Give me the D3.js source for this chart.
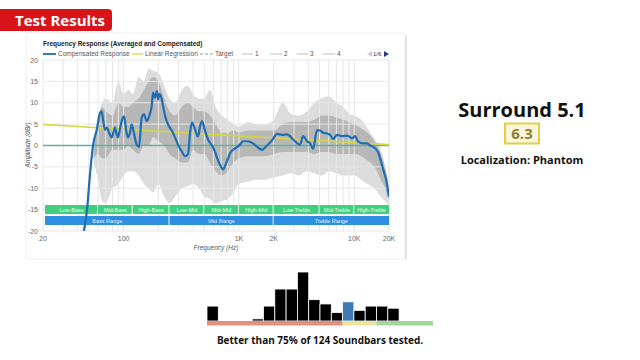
<!DOCTYPE html>
<html>
<head>
<meta charset="utf-8">
<script src="https://cdn.jsdelivr.net/npm/d3@7/dist/d3.min.js"></script>
<style>
  body { margin: 0; background: #fff; }
  svg { display: block; font-family: "Open Sans", sans-serif; }
  .chart text { font-family: "Liberation Sans", Arial, sans-serif; }
</style>
</head>
<body>
<svg id="viz" width="640" height="360"></svg>
<script>
// compensated response (Hz / dB)
var respFreq = [45.3, 48.2, 51, 54.3, 58.5, 62.4, 64.6, 66.3, 69, 71.8, 74.7, 78.8, 84.2, 87.1, 89.4, 93, 96.3, 98.8, 101,
  105, 109, 113.6, 117.6, 120.6, 126, 130, 136, 143.6, 150.3, 158.7, 165, 169.5, 175.3, 180, 187, 195, 199, 205, 211,
  220, 229, 243, 263, 279, 296, 321, 341, 362, 377, 392, 416, 442, 460, 479, 508, 540, 585, 621, 659, 700, 728, 765,
  805, 850, 889, 950, 1022, 1085, 1176, 1326, 1465, 1587, 1753, 1937, 2140, 2366, 2614, 2946, 3389, 3598, 3898, 4138,
  4393, 4758, 5050, 5363, 5808, 6168, 6550, 7095, 7840, 8662, 9572, 10163, 10792, 11924, 12918, 13717, 14564, 16092,
  16747, 17780, 18883, 20000];
var respDb = [-20, -15, -7, 0, 3.7, 7.6, 8, 6.1, 3.7, 4.2, 3, 1.9, 4.2, 2.6, 1.9, 4, 5.7, 6.5, 6.8,
  3.7, 1.9, 3, 4.9, 4, 1.5, 0.2, -0.3, 6.5, 7.3, 5.7, 6.5, 7.5, 9.2, 12.4, 11.2, 12.7, 10.8, 12, 11.5,
  9.2, 6.9, 4.9, 3.4, 1.9, 0.2, -1.5, -2.5, -2, 3, 5.4, 3.7, 2.1, 4.5, 5.7, 3.4, 1.4, -0.1, -1.5, -3.5, -5, -5.6, -4.5,
  -3, -1.5, -1, -0.5, 0.2, 1, 1, 0.5, -0.5, -1, 0, 1.2, 2.7, 2.5, 2.6, 1.4, 0.2, 2.2, 1, 0.5,
  -0.8, 3.6, 3.5, 3, 2.8, 2.5, 1.5, 2.5, 2.2, 2.3, 1.7, 2.2, 0.9, 0.5, 0.5, 0, -0.3, -1.5,
  -3, -5.5, -8, -12];

// spread of the individual measurements (gray cloud)
var cloudFreq = [55, 60, 65, 70, 80, 90, 100, 110, 120, 135, 150, 165, 180, 200, 225, 250, 280, 320, 360, 400, 450, 500,
  560, 630, 710, 800, 900, 1000, 1200, 1400, 1700, 2000, 2400, 2800, 3300, 3900, 4500, 5200, 6000, 7000, 8000, 9000,
  10000, 11500, 13000, 15000, 17000, 18500, 20000];
var cloudHi = [-2, 6, 10, 11, 10, 15, 12, 13, 12, 16, 15, 18, 17.5, 17, 14, 11, 10, 13, 14, 12, 11, 11,
  13, 9, 7, 6, 5, 4.5, 5.5, 5, 5, 6, 10, 7.5, 7, 8, 10, 11, 11.5, 10, 9, 7.5,
  7, 6, 4, 1.5, -1, -5, -10];
var cloudLo = [-4, -8, -13, -13.5, -10, -9, -7, -6, -6, -7, -9, -10, -11, -9, -12, -13.5, -12, -10, -9.5, -9, -10, -12,
  -12.5, -13.5, -13, -12.5, -11, -9, -8.5, -8, -8, -7.5, -7, -6.5, -7, -6, -6.5, -7, -6, -6.5, -7, -7,
  -7, -8, -9, -10, -12, -13, -14];
var coreHi = [-1, 6, 9, 8, 7, 10, 9, 9, 10, 11, 13, 15, 16, 15, 11, 8, 7, 9, 10, 9, 8, 8,
  7, 5, 3, 3, 3.5, 3, 3.5, 3.5, 3.5, 3.5, 5, 5.5, 5.5, 5.5, 6, 7, 7, 6.5, 6, 5.5,
  5, 4, 3, 1, -2, -5, -10];
var coreLo = [-3, -2, -3, -3, -1, -1, -1, 0, -1, -2, 0, 0, 2, 1, 0, -2, -3, -4, -4, -1, -2, -2,
  -4, -6, -7, -6, -4, -3, -2.5, -2.5, -2.5, -2, -1.5, -1.5, -1.5, -1.5, -2, -1.5, -1.5, -2, -2, -2,
  -2, -2.5, -3.5, -5, -8, -10, -13];

var regFreq = [20, 20000];
var regDb = [4.9, 0.2];
var targetDb = 0;

var yTicks = [20, 15, 10, 5, 0, -5, -10, -15, -20];
var xTickVals = [20, 100, 1000, 2000, 10000, 20000];
var xTickLabels = ["20", "100", "1K", "2K", "10K", "20K"];

var bandNames = ["Low-Bass", "Mid-Bass", "High-Bass", "Low-Mid", "Mid-Mid", "High-Mid", "Low-Treble", "Mid-Treble", "High-Treble"];
var bandEdges = [20, 60, 120, 250, 500, 1000, 2000, 5000, 10000, 20000];
var rangeNames = ["Bass Range", "Mid Range", "Treble Range"];
var rangeEdges = [20, 250, 2000, 20000];

var legendNames = ["Compensated Response", "Linear Regression", "Target", "1", "2", "3", "4"];

// score distribution
var histStart = [0, 0.5, 1, 1.5, 2, 2.5, 3, 3.5, 4, 4.5, 5, 5.5, 6, 6.5, 7, 7.5, 8, 8.5, 9, 9.5];
var histCounts = [7, 0, 0, 0, 1, 7, 15, 15, 23, 10, 8, 4, 9, 5, 7, 7, 6, 0, 0, 0];
var zoneEdges = [0, 6, 7.5, 10];
var score = 6.3;

var svg = d3.select("#viz");

// red header tag
svg.append("path")
  .attr("d", "M0,9 H108 a4,4 0 0 1 4,4 V27 a4,4 0 0 1 -4,4 H0 Z")
  .attr("fill", "#d8141b");
svg.append("text")
  .attr("x", 15).attr("y", 26)
  .attr("font-size", 15).attr("font-weight", 700)
  .attr("fill", "#fff")
  .text("Test Results");

// card behind the chart
svg.append("rect")
  .attr("x", 26).attr("y", 33).attr("width", 379).attr("height", 226)
  .attr("fill", "#fff").attr("stroke", "#efefef");
svg.append("line")
  .attr("x1", 406).attr("x2", 406).attr("y1", 35).attr("y2", 259)
  .attr("stroke", "#e4e4e4").attr("stroke-width", 2);

var chart = svg.append("g").attr("class", "chart");

var x = d3.scaleLog().domain([20, 20000]).range([43, 389]);
var y = d3.scaleLinear().domain([-20, 20]).range([231, 60]);

chart.append("clipPath").attr("id", "plotclip")
  .append("rect").attr("x", 43).attr("y", 60).attr("width", 346).attr("height", 171);

var under = chart.append("g").attr("clip-path", "url(#plotclip)");

// gray cloud
var cloud = cloudFreq.map(function(f, i) { return { f: f, hi: cloudHi[i], lo: cloudLo[i], chi: coreHi[i], clo: coreLo[i] }; });
under.append("path").datum(cloud)
  .attr("d", d3.area().x(d => x(d.f)).y0(d => y(d.lo)).y1(d => y(d.hi)).curve(d3.curveMonotoneX))
  .attr("fill", "#dcdcdc");
under.append("path").datum(cloud)
  .attr("d", d3.area().x(d => x(d.f)).y0(d => y(d.clo)).y1(d => y(d.chi)).curve(d3.curveMonotoneX))
  .attr("fill", "#b7b7b7");

// grid
var gridX = [];
[10, 100, 1000, 10000].forEach(function(dec) {
  for (var k = 1; k < 10; k++) { var v = dec * k; if (v >= 20 && v <= 20000) gridX.push(v); }
});
gridX.push(20000);
chart.append("g").selectAll("line").data(gridX).enter().append("line")
  .attr("x1", d => x(d)).attr("x2", d => x(d)).attr("y1", 60).attr("y2", 231)
  .attr("stroke", "#e6e6e6").attr("stroke-width", 1);
chart.append("g").selectAll("line").data(yTicks).enter().append("line")
  .attr("x1", 43).attr("x2", 389).attr("y1", d => y(d)).attr("y2", d => y(d))
  .attr("stroke", "#e6e6e6").attr("stroke-width", 1);

var plot = chart.append("g").attr("clip-path", "url(#plotclip)");

// target and regression
plot.append("line")
  .attr("x1", x(20)).attr("x2", x(20000)).attr("y1", y(targetDb)).attr("y2", y(targetDb))
  .attr("stroke", "#5fb39a").attr("stroke-width", 1.5);
plot.append("path").datum(regFreq.map((f, i) => [f, regDb[i]]))
  .attr("d", d3.line().x(d => x(d[0])).y(d => y(d[1])))
  .attr("fill", "none").attr("stroke", "#d2d642").attr("stroke-width", 1.6);

// frequency bands
var bands = chart.append("g");
bandNames.forEach(function(n, i) {
  var x0 = Math.max(x(bandEdges[i]), 45), x1 = x(bandEdges[i + 1]);
  bands.append("rect").attr("x", x0).attr("y", 205).attr("width", x1 - x0 - (i < bandNames.length - 1 ? 1 : 0)).attr("height", 9)
    .attr("fill", "#3fd07f");
  bands.append("text").attr("x", (x0 + x1) / 2).attr("y", 211.5).attr("text-anchor", "middle")
    .attr("font-size", 5.5).attr("fill", "#e9fff1").text(n);
});
rangeNames.forEach(function(n, i) {
  var x0 = Math.max(x(rangeEdges[i]), 45), x1 = x(rangeEdges[i + 1]);
  bands.append("rect").attr("x", x0).attr("y", 216).attr("width", x1 - x0 - (i < rangeNames.length - 1 ? 1 : 0)).attr("height", 9)
    .attr("fill", "#2e8fe0");
  bands.append("text").attr("x", (x0 + x1) / 2).attr("y", 222.5).attr("text-anchor", "middle")
    .attr("font-size", 5.5).attr("fill", "#e6f2ff").text(n);
});

// compensated response
var front = chart.append("g").attr("clip-path", "url(#plotclip)");
front.append("path").datum(respFreq.map((f, i) => [f, respDb[i]]))
  .attr("d", d3.line().x(d => x(d[0])).y(d => y(d[1])).curve(d3.curveMonotoneX))
  .attr("fill", "none").attr("stroke", "#1f6db3").attr("stroke-width", 2.2).attr("stroke-linejoin", "round");

// axes labels
chart.append("g").selectAll("text").data(yTicks).enter().append("text")
  .attr("x", 38).attr("y", d => y(d) + 2.5).attr("text-anchor", "end")
  .attr("font-size", 7).attr("fill", "#666").text(d => d);
chart.append("g").selectAll("text").data(xTickVals).enter().append("text")
  .attr("x", d => x(d)).attr("y", 240.5).attr("text-anchor", "middle")
  .attr("font-size", 7).attr("fill", "#666").text((d, i) => xTickLabels[i]);
chart.append("text").attr("transform", "translate(30,145) rotate(-90)")
  .attr("text-anchor", "middle").attr("font-size", 6.5).attr("font-style", "italic").attr("fill", "#555")
  .text("Amplitude (dBr)");
chart.append("text").attr("x", 216).attr("y", 250)
  .attr("text-anchor", "middle").attr("font-size", 6.5).attr("font-style", "italic").attr("fill", "#555")
  .text("Frequency (Hz)");

// title + legend
chart.append("text").attr("x", 43).attr("y", 46)
  .attr("font-size", 6.5).attr("font-weight", 700).attr("fill", "#222")
  .text("Frequency Response (Averaged and Compensated)");
var legX = [43, 132, 200, 242, 270, 297, 323];
var legW = [13, 11, 13, 11, 12, 11, 12];
var legColor = ["#1f6db3", "#d2d642", "#5fb39a", "#c8c8c8", "#c8c8c8", "#c8c8c8", "#c8c8c8"];
var leg = chart.append("g");
legendNames.forEach(function(n, i) {
  leg.append("line").attr("x1", legX[i]).attr("x2", legX[i] + legW[i]).attr("y1", 54).attr("y2", 54)
    .attr("stroke", legColor[i]).attr("stroke-width", i === 0 ? 1.8 : 1.2)
    .attr("stroke-dasharray", i === 2 ? "3,2" : null);
  leg.append("text").attr("x", legX[i] + legW[i] + 2).attr("y", 56.3)
    .attr("font-size", 6.5).attr("fill", "#555").text(n);
});
leg.append("path").attr("d", "M372,51 L367,54 L372,57 Z").attr("fill", "#ccc");
leg.append("text").attr("x", 373).attr("y", 56.3).attr("font-size", 6).attr("fill", "#223b8f").text("1/6");
leg.append("path").attr("d", "M384,51 L389,54 L384,57 Z").attr("fill", "#223b8f");

// right panel: score
svg.append("text").attr("x", 522).attr("y", 117).attr("text-anchor", "middle")
  .attr("font-size", 20).attr("font-weight", 700).attr("fill", "#111").text("Surround 5.1");
svg.append("rect").attr("x", 505).attr("y", 123.5).attr("width", 34).attr("height", 20)
  .attr("fill", "#fbf6dc").attr("stroke", "#e3cd49").attr("stroke-width", 2);
svg.append("text").attr("x", 522).attr("y", 139).attr("text-anchor", "middle")
  .attr("font-size", 15).attr("font-weight", 700).attr("fill", "#8d8233").text(score);
svg.append("text").attr("x", 522).attr("y", 164).attr("text-anchor", "middle")
  .attr("font-size", 11).attr("font-weight", 700).attr("fill", "#111").text("Localization: Phantom");

// score distribution
var hx = d3.scaleLinear().domain([0, 10]).range([207, 433]);
var hy = d3.scaleLinear().domain([0, 23]).range([321, 272]);
svg.append("g").selectAll("rect").data(histStart).enter().append("rect")
  .attr("x", d => hx(d)).attr("width", hx(0.5) - hx(0))
  .attr("y", (d, i) => hy(histCounts[i])).attr("height", (d, i) => hy(0) - hy(histCounts[i]))
  .attr("fill", d => (score >= d && score < d + 0.5) ? "#3d79b5" : "#000")
  .attr("stroke", "#fff").attr("stroke-width", 0.8);
var zoneColor = ["#e58f7f", "#ede59b", "#a4d79b"];
svg.append("g").selectAll("rect").data(zoneColor).enter().append("rect")
  .attr("x", (d, i) => hx(zoneEdges[i])).attr("width", (d, i) => hx(zoneEdges[i + 1]) - hx(zoneEdges[i]))
  .attr("y", 321).attr("height", 4.5).attr("fill", d => d);
svg.append("text").attr("x", 320).attr("y", 344).attr("text-anchor", "middle")
  .attr("font-size", 10).attr("font-weight", 700).attr("fill", "#111")
  .text("Better than 75% of 124 Soundbars tested.");
</script>
</body>
</html>
